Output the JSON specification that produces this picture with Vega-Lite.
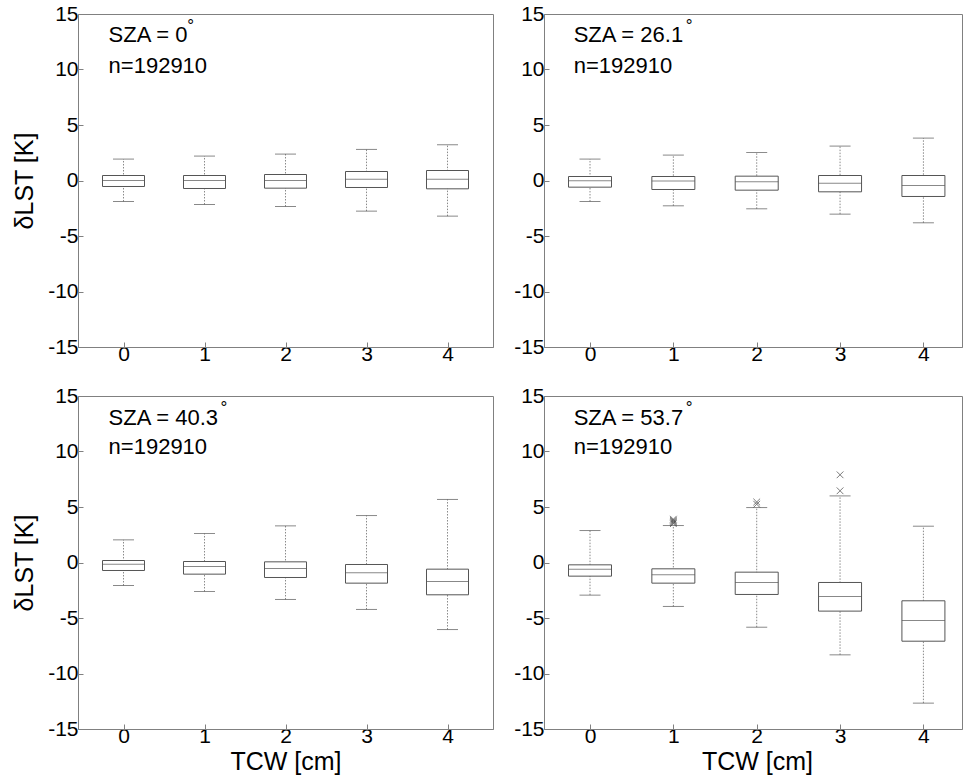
{
  "$schema": "https://vega.github.io/schema/vega-lite/v6.json",
  "background": "white",
  "padding": {"left": 12, "top": 2, "right": 0, "bottom": 0},
  "columns": 2,
  "spacing": {"row": 49, "column": 51},
  "bounds": "flush",
  "config": {
    "view": {"stroke": "#808080", "strokeWidth": 1},
    "axis": {"labelFont": "Liberation Sans", "labelFontSize": 21, "labelColor": "#000", "titleFont": "Liberation Sans", "titleFontSize": 25, "titleFontWeight": "normal", "titleColor": "#000", "domainColor": "#808080", "tickColor": "#808080", "tickSize": -5, "grid": false, "labelExpr": "toString(datum.value)"},
    "axisX": {"labelPadding": 1, "titlePadding": 3},
    "axisY": {"labelPadding": 5, "titlePadding": 10}
  },
  "datasets": {
    "boxes": [
      {"panel": "A", "tcw": 0, "lw": -1.89, "q1": -0.54, "med": 0.0, "q3": 0.45, "uw": 1.93},
      {"panel": "A", "tcw": 1, "lw": -2.16, "q1": -0.72, "med": 0.0, "q3": 0.45, "uw": 2.2},
      {"panel": "A", "tcw": 2, "lw": -2.34, "q1": -0.69, "med": 0.0, "q3": 0.54, "uw": 2.38},
      {"panel": "A", "tcw": 3, "lw": -2.76, "q1": -0.63, "med": 0.12, "q3": 0.81, "uw": 2.8},
      {"panel": "A", "tcw": 4, "lw": -3.21, "q1": -0.75, "med": 0.12, "q3": 0.9, "uw": 3.22},
      {"panel": "B", "tcw": 0, "lw": -1.89, "q1": -0.6, "med": -0.03, "q3": 0.36, "uw": 1.93},
      {"panel": "B", "tcw": 1, "lw": -2.28, "q1": -0.81, "med": -0.05, "q3": 0.36, "uw": 2.29},
      {"panel": "B", "tcw": 2, "lw": -2.55, "q1": -0.87, "med": -0.12, "q3": 0.39, "uw": 2.52},
      {"panel": "B", "tcw": 3, "lw": -3.03, "q1": -1.02, "med": -0.24, "q3": 0.45, "uw": 3.1},
      {"panel": "B", "tcw": 4, "lw": -3.81, "q1": -1.44, "med": -0.45, "q3": 0.45, "uw": 3.82},
      {"panel": "C", "tcw": 0, "lw": -2.07, "q1": -0.72, "med": -0.15, "q3": 0.18, "uw": 2.04},
      {"panel": "C", "tcw": 1, "lw": -2.61, "q1": -1.05, "med": -0.36, "q3": 0.09, "uw": 2.61},
      {"panel": "C", "tcw": 2, "lw": -3.33, "q1": -1.35, "med": -0.54, "q3": 0.06, "uw": 3.3},
      {"panel": "C", "tcw": 3, "lw": -4.23, "q1": -1.86, "med": -0.93, "q3": -0.18, "uw": 4.23},
      {"panel": "C", "tcw": 4, "lw": -6.04, "q1": -2.91, "med": -1.71, "q3": -0.6, "uw": 5.68},
      {"panel": "D", "tcw": 0, "lw": -2.94, "q1": -1.23, "med": -0.6, "q3": -0.21, "uw": 2.88},
      {"panel": "D", "tcw": 1, "lw": -3.96, "q1": -1.86, "med": -1.11, "q3": -0.57, "uw": 3.33},
      {"panel": "D", "tcw": 2, "lw": -5.83, "q1": -2.88, "med": -1.8, "q3": -0.87, "uw": 4.95},
      {"panel": "D", "tcw": 3, "lw": -8.32, "q1": -4.38, "med": -3.06, "q3": -1.8, "uw": 6.0},
      {"panel": "D", "tcw": 4, "lw": -12.67, "q1": -7.09, "med": -5.23, "q3": -3.45, "uw": 3.27}
    ],
    "outliers": [
      {"panel": "D", "tcw": 1, "value": 3.9},
      {"panel": "D", "tcw": 1, "value": 3.8},
      {"panel": "D", "tcw": 1, "value": 3.7},
      {"panel": "D", "tcw": 1, "value": 3.6},
      {"panel": "D", "tcw": 1, "value": 3.5},
      {"panel": "D", "tcw": 2, "value": 5.45},
      {"panel": "D", "tcw": 2, "value": 5.25},
      {"panel": "D", "tcw": 3, "value": 7.9},
      {"panel": "D", "tcw": 3, "value": 6.46}
    ],
    "annot": [
      {"panel": "A", "sza": "SZA = 0", "n": "n=192910"},
      {"panel": "B", "sza": "SZA = 26.1", "n": "n=192910"},
      {"panel": "C", "sza": "SZA = 40.3", "n": "n=192910"},
      {"panel": "D", "sza": "SZA = 53.7", "n": "n=192910"}
    ]
  },
  "concat": [
    {
      "width": 415, "height": 333,
      "layer": [
        {"data": {"name": "boxes"}, "transform": [{"filter": "datum.panel == 'A'"}], "mark": {"type": "rule", "color": "#8a8a8a", "strokeDash": [1.5, 1.5]}, "encoding": {"x": {"field": "tcw", "type": "quantitative", "title": null, "scale": {"domain": [-0.5, 4.5], "nice": false, "zero": false}, "axis": {"values": [0, 1, 2, 3, 4], "title": null}}, "y": {"field": "lw", "type": "quantitative", "title": "δLST [K]", "scale": {"domain": [-15, 15], "nice": false, "zero": false}, "axis": {"values": [-15, -10, -5, 0, 5, 10, 15]}}, "y2": {"field": "uw"}}},
        {"data": {"name": "boxes"}, "transform": [{"filter": "datum.panel == 'A'"}], "mark": {"type": "tick", "orient": "horizontal", "size": 21, "thickness": 1, "color": "#555"}, "encoding": {"x": {"field": "tcw", "type": "quantitative", "title": null}, "y": {"field": "lw", "type": "quantitative", "title": "δLST [K]"}}},
        {"data": {"name": "boxes"}, "transform": [{"filter": "datum.panel == 'A'"}], "mark": {"type": "tick", "orient": "horizontal", "size": 21, "thickness": 1, "color": "#555"}, "encoding": {"x": {"field": "tcw", "type": "quantitative", "title": null}, "y": {"field": "uw", "type": "quantitative", "title": "δLST [K]"}}},
        {"data": {"name": "boxes"}, "transform": [{"filter": "datum.panel == 'A'"}], "mark": {"type": "bar", "size": 42, "fill": "white", "stroke": "#555", "strokeWidth": 1}, "encoding": {"x": {"field": "tcw", "type": "quantitative", "title": null}, "y": {"field": "q1", "type": "quantitative", "title": "δLST [K]"}, "y2": {"field": "q3"}}},
        {"data": {"name": "boxes"}, "transform": [{"filter": "datum.panel == 'A'"}], "mark": {"type": "tick", "orient": "horizontal", "size": 42, "thickness": 1, "color": "#555"}, "encoding": {"x": {"field": "tcw", "type": "quantitative", "title": null}, "y": {"field": "med", "type": "quantitative", "title": "δLST [K]"}}},
        {"data": {"name": "annot"}, "transform": [{"filter": "datum.panel == 'A'"}], "mark": {"type": "text", "font": "Liberation Sans", "fontSize": 22, "align": "left", "baseline": "alphabetic", "color": "#000"}, "encoding": {"x": {"datum": -0.184}, "y": {"datum": 12.45}, "text": {"field": "sza", "type": "nominal"}}},
        {"data": {"name": "annot"}, "transform": [{"filter": "datum.panel == 'A'"}], "mark": {"type": "text", "font": "Liberation Sans", "fontSize": 22, "align": "left", "baseline": "alphabetic", "color": "#000"}, "encoding": {"x": {"datum": -0.184}, "y": {"datum": 9.72}, "text": {"field": "n", "type": "nominal"}}},
        {"data": {"name": "annot"}, "transform": [{"filter": "datum.panel == 'A'"}], "mark": {"type": "text", "font": "Liberation Sans", "fontSize": 17, "align": "center", "baseline": "alphabetic", "color": "#000", "text": "°"}, "encoding": {"x": {"datum": 0.83}, "y": {"datum": 13.44}}}
      ]
    },
    {
      "width": 418, "height": 333,
      "layer": [
        {"data": {"name": "boxes"}, "transform": [{"filter": "datum.panel == 'B'"}], "mark": {"type": "rule", "color": "#8a8a8a", "strokeDash": [1.5, 1.5]}, "encoding": {"x": {"field": "tcw", "type": "quantitative", "title": null, "scale": {"domain": [-0.492, 4.403], "nice": false, "zero": false}, "axis": {"values": [0, 1, 2, 3, 4], "title": null}}, "y": {"field": "lw", "type": "quantitative", "title": null, "scale": {"domain": [-15, 15], "nice": false, "zero": false}, "axis": {"values": [-15, -10, -5, 0, 5, 10, 15], "title": null}}, "y2": {"field": "uw"}}},
        {"data": {"name": "boxes"}, "transform": [{"filter": "datum.panel == 'B'"}], "mark": {"type": "tick", "orient": "horizontal", "size": 21, "thickness": 1, "color": "#555"}, "encoding": {"x": {"field": "tcw", "type": "quantitative", "title": null}, "y": {"field": "lw", "type": "quantitative", "title": null}}},
        {"data": {"name": "boxes"}, "transform": [{"filter": "datum.panel == 'B'"}], "mark": {"type": "tick", "orient": "horizontal", "size": 21, "thickness": 1, "color": "#555"}, "encoding": {"x": {"field": "tcw", "type": "quantitative", "title": null}, "y": {"field": "uw", "type": "quantitative", "title": null}}},
        {"data": {"name": "boxes"}, "transform": [{"filter": "datum.panel == 'B'"}], "mark": {"type": "bar", "size": 43, "fill": "white", "stroke": "#555", "strokeWidth": 1}, "encoding": {"x": {"field": "tcw", "type": "quantitative", "title": null}, "y": {"field": "q1", "type": "quantitative", "title": null}, "y2": {"field": "q3"}}},
        {"data": {"name": "boxes"}, "transform": [{"filter": "datum.panel == 'B'"}], "mark": {"type": "tick", "orient": "horizontal", "size": 43, "thickness": 1, "color": "#555"}, "encoding": {"x": {"field": "tcw", "type": "quantitative", "title": null}, "y": {"field": "med", "type": "quantitative", "title": null}}},
        {"data": {"name": "annot"}, "transform": [{"filter": "datum.panel == 'B'"}], "mark": {"type": "text", "font": "Liberation Sans", "fontSize": 22, "align": "left", "baseline": "alphabetic", "color": "#000"}, "encoding": {"x": {"datum": -0.196}, "y": {"datum": 12.45}, "text": {"field": "sza", "type": "nominal"}}},
        {"data": {"name": "annot"}, "transform": [{"filter": "datum.panel == 'B'"}], "mark": {"type": "text", "font": "Liberation Sans", "fontSize": 22, "align": "left", "baseline": "alphabetic", "color": "#000"}, "encoding": {"x": {"datum": -0.196}, "y": {"datum": 9.72}, "text": {"field": "n", "type": "nominal"}}},
        {"data": {"name": "annot"}, "transform": [{"filter": "datum.panel == 'B'"}], "mark": {"type": "text", "font": "Liberation Sans", "fontSize": 17, "align": "center", "baseline": "alphabetic", "color": "#000", "text": "°"}, "encoding": {"x": {"datum": 1.19}, "y": {"datum": 13.44}}}
      ]
    },
    {
      "width": 415, "height": 333,
      "layer": [
        {"data": {"name": "boxes"}, "transform": [{"filter": "datum.panel == 'C'"}], "mark": {"type": "rule", "color": "#8a8a8a", "strokeDash": [1.5, 1.5]}, "encoding": {"x": {"field": "tcw", "type": "quantitative", "title": "TCW [cm]", "scale": {"domain": [-0.5, 4.5], "nice": false, "zero": false}, "axis": {"values": [0, 1, 2, 3, 4]}}, "y": {"field": "lw", "type": "quantitative", "title": "δLST [K]", "scale": {"domain": [-15, 15], "nice": false, "zero": false}, "axis": {"values": [-15, -10, -5, 0, 5, 10, 15]}}, "y2": {"field": "uw"}}},
        {"data": {"name": "boxes"}, "transform": [{"filter": "datum.panel == 'C'"}], "mark": {"type": "tick", "orient": "horizontal", "size": 21, "thickness": 1, "color": "#555"}, "encoding": {"x": {"field": "tcw", "type": "quantitative", "title": "TCW [cm]"}, "y": {"field": "lw", "type": "quantitative", "title": "δLST [K]"}}},
        {"data": {"name": "boxes"}, "transform": [{"filter": "datum.panel == 'C'"}], "mark": {"type": "tick", "orient": "horizontal", "size": 21, "thickness": 1, "color": "#555"}, "encoding": {"x": {"field": "tcw", "type": "quantitative", "title": "TCW [cm]"}, "y": {"field": "uw", "type": "quantitative", "title": "δLST [K]"}}},
        {"data": {"name": "boxes"}, "transform": [{"filter": "datum.panel == 'C'"}], "mark": {"type": "bar", "size": 42, "fill": "white", "stroke": "#555", "strokeWidth": 1}, "encoding": {"x": {"field": "tcw", "type": "quantitative", "title": "TCW [cm]"}, "y": {"field": "q1", "type": "quantitative", "title": "δLST [K]"}, "y2": {"field": "q3"}}},
        {"data": {"name": "boxes"}, "transform": [{"filter": "datum.panel == 'C'"}], "mark": {"type": "tick", "orient": "horizontal", "size": 42, "thickness": 1, "color": "#555"}, "encoding": {"x": {"field": "tcw", "type": "quantitative", "title": "TCW [cm]"}, "y": {"field": "med", "type": "quantitative", "title": "δLST [K]"}}},
        {"data": {"name": "annot"}, "transform": [{"filter": "datum.panel == 'C'"}], "mark": {"type": "text", "font": "Liberation Sans", "fontSize": 22, "align": "left", "baseline": "alphabetic", "color": "#000"}, "encoding": {"x": {"datum": -0.184}, "y": {"datum": 12.4}, "text": {"field": "sza", "type": "nominal"}}},
        {"data": {"name": "annot"}, "transform": [{"filter": "datum.panel == 'C'"}], "mark": {"type": "text", "font": "Liberation Sans", "fontSize": 22, "align": "left", "baseline": "alphabetic", "color": "#000"}, "encoding": {"x": {"datum": -0.184}, "y": {"datum": 9.74}, "text": {"field": "n", "type": "nominal"}}},
        {"data": {"name": "annot"}, "transform": [{"filter": "datum.panel == 'C'"}], "mark": {"type": "text", "font": "Liberation Sans", "fontSize": 17, "align": "center", "baseline": "alphabetic", "color": "#000", "text": "°"}, "encoding": {"x": {"datum": 1.24}, "y": {"datum": 13.45}}}
      ]
    },
    {
      "width": 418, "height": 333,
      "layer": [
        {"data": {"name": "boxes"}, "transform": [{"filter": "datum.panel == 'D'"}], "mark": {"type": "rule", "color": "#8a8a8a", "strokeDash": [1.5, 1.5]}, "encoding": {"x": {"field": "tcw", "type": "quantitative", "title": "TCW [cm]", "scale": {"domain": [-0.492, 4.403], "nice": false, "zero": false}, "axis": {"values": [0, 1, 2, 3, 4], "titleX": 213}}, "y": {"field": "lw", "type": "quantitative", "title": null, "scale": {"domain": [-15, 15], "nice": false, "zero": false}, "axis": {"values": [-15, -10, -5, 0, 5, 10, 15], "title": null}}, "y2": {"field": "uw"}}},
        {"data": {"name": "boxes"}, "transform": [{"filter": "datum.panel == 'D'"}], "mark": {"type": "tick", "orient": "horizontal", "size": 21, "thickness": 1, "color": "#555"}, "encoding": {"x": {"field": "tcw", "type": "quantitative", "title": "TCW [cm]"}, "y": {"field": "lw", "type": "quantitative", "title": null}}},
        {"data": {"name": "boxes"}, "transform": [{"filter": "datum.panel == 'D'"}], "mark": {"type": "tick", "orient": "horizontal", "size": 21, "thickness": 1, "color": "#555"}, "encoding": {"x": {"field": "tcw", "type": "quantitative", "title": "TCW [cm]"}, "y": {"field": "uw", "type": "quantitative", "title": null}}},
        {"data": {"name": "boxes"}, "transform": [{"filter": "datum.panel == 'D'"}], "mark": {"type": "bar", "size": 43, "fill": "white", "stroke": "#555", "strokeWidth": 1}, "encoding": {"x": {"field": "tcw", "type": "quantitative", "title": "TCW [cm]"}, "y": {"field": "q1", "type": "quantitative", "title": null}, "y2": {"field": "q3"}}},
        {"data": {"name": "boxes"}, "transform": [{"filter": "datum.panel == 'D'"}], "mark": {"type": "tick", "orient": "horizontal", "size": 43, "thickness": 1, "color": "#555"}, "encoding": {"x": {"field": "tcw", "type": "quantitative", "title": "TCW [cm]"}, "y": {"field": "med", "type": "quantitative", "title": null}}},
        {"data": {"name": "outliers"}, "mark": {"type": "point", "shape": "M-1,-1L1,1M-1,1L1,-1", "filled": false, "stroke": "#444", "strokeWidth": 1, "size": 45}, "encoding": {"x": {"field": "tcw", "type": "quantitative", "title": "TCW [cm]"}, "y": {"field": "value", "type": "quantitative", "title": null}}},
        {"data": {"name": "annot"}, "transform": [{"filter": "datum.panel == 'D'"}], "mark": {"type": "text", "font": "Liberation Sans", "fontSize": 22, "align": "left", "baseline": "alphabetic", "color": "#000"}, "encoding": {"x": {"datum": -0.196}, "y": {"datum": 12.4}, "text": {"field": "sza", "type": "nominal"}}},
        {"data": {"name": "annot"}, "transform": [{"filter": "datum.panel == 'D'"}], "mark": {"type": "text", "font": "Liberation Sans", "fontSize": 22, "align": "left", "baseline": "alphabetic", "color": "#000"}, "encoding": {"x": {"datum": -0.196}, "y": {"datum": 9.74}, "text": {"field": "n", "type": "nominal"}}},
        {"data": {"name": "annot"}, "transform": [{"filter": "datum.panel == 'D'"}], "mark": {"type": "text", "font": "Liberation Sans", "fontSize": 17, "align": "center", "baseline": "alphabetic", "color": "#000", "text": "°"}, "encoding": {"x": {"datum": 1.19}, "y": {"datum": 13.45}}}
      ]
    }
  ]
}
